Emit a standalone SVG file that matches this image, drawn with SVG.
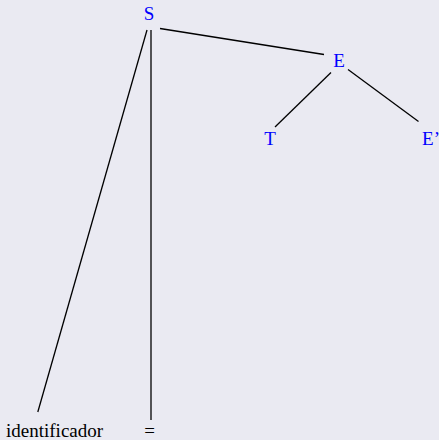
<svg xmlns="http://www.w3.org/2000/svg" width="439" height="440" viewBox="0 0 439 440">
<style>
.n{font-family:"Liberation Serif","Times New Roman",serif;font-size:19px;fill:#0000ff;text-anchor:middle}
.t{font-family:"Liberation Serif","Times New Roman",serif;font-size:19px;fill:#000000}
.e{stroke:#000000;stroke-width:1.3;fill:none}
</style>
<rect x="0" y="0" width="439" height="440" fill="#eaeaf2"/>
<g id="connectors">
<line class="e" x1="160" y1="28.5" x2="324" y2="54.5"/>
<line class="e" x1="331" y1="72.5" x2="275" y2="127"/>
<line class="e" x1="348" y1="69.5" x2="418.5" y2="121.5"/>
<line class="e" x1="147" y1="30" x2="37.8" y2="412"/>
<line class="e" x1="151" y1="30" x2="151" y2="420"/>
</g>
<g id="node-S"><text class="n" x="149" y="20">S</text></g>
<g id="node-E"><text class="n" x="339" y="66.5">E</text></g>
<g id="node-T"><text class="n" x="270" y="145">T</text></g>
<g id="node-Ep"><text class="n" x="431" y="145">E’</text></g>
<g id="node-identificador"><text class="t" x="6" y="437">identificador</text></g>
<g id="node-eq"><text class="t" x="149.5" y="437" text-anchor="middle">=</text></g>
</svg>
